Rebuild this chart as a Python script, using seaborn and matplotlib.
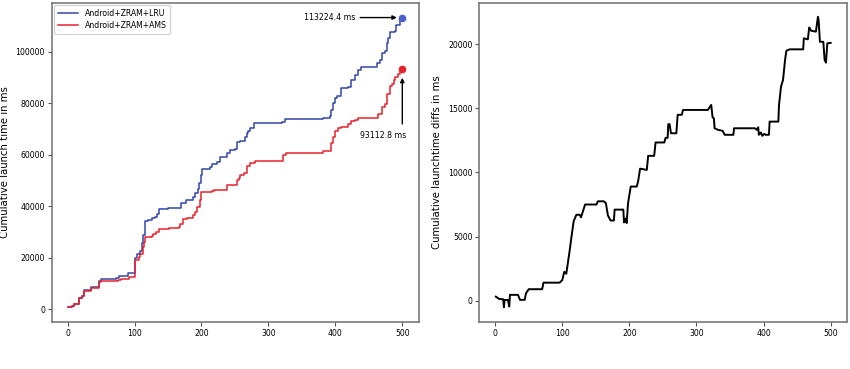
import matplotlib
matplotlib.use("Agg")
import matplotlib.pyplot as plt
import seaborn as sns
import pandas as pd

# ---- data ----
lru_x = [1, 6, 10, 17, 21, 24, 35, 47, 50, 72, 77, 90, 100, 101, 103, 108, 111, 113, 115, 120,
         126, 130, 133, 136, 150, 169, 177, 187, 191, 195, 197, 199, 201, 212, 215, 223, 228, 238,
         243, 250, 253, 258, 265, 268, 270, 273, 278, 320, 325, 382, 392, 394, 397, 400, 402, 409,
         419, 424, 429, 434, 439, 462, 467, 469, 474, 477, 479, 482, 489, 491, 496, 500]
lru_y = [650, 1300, 2100, 4200, 5000, 7400, 8600, 11000, 11800, 12100, 13000, 13800, 17000, 20000,
         21300, 22600, 25500, 28600, 34200, 34600, 35300, 35700, 37000, 38700, 39200, 41000, 42500,
         43500, 45000, 46500, 49000, 52000, 54500, 55200, 56500, 57100, 59100, 60600, 61700, 62300,
         64900, 65300, 66900, 68200, 69200, 70300, 72300, 72700, 73800, 74300, 75000, 77300, 80000,
         81800, 82700, 85700, 86200, 89000, 90900, 92900, 94200, 95500, 96800, 99400, 100300, 103200,
         105200, 107800, 108000, 110400, 113000, 113224.4]

ams_x = [1, 6, 10, 17, 21, 24, 35, 47, 50, 75, 80, 92, 100, 101, 106, 108, 112, 114, 116, 126,
         128, 132, 136, 151, 166, 168, 172, 178, 188, 190, 194, 198, 200, 216, 218, 238, 253, 256,
         258, 263, 268, 273, 280, 322, 327, 382, 394, 397, 400, 404, 409, 419, 424, 429, 434, 464,
         469, 474, 477, 481, 484, 487, 489, 494, 496, 500]
ams_y = [650, 1300, 2000, 4200, 5000, 7000, 8300, 10500, 10800, 11200, 11600, 12500, 16000, 19000,
         20300, 21500, 24100, 26000, 28000, 28500, 29000, 30000, 31000, 31500, 31900, 33200, 34800,
         35500, 36500, 37700, 39600, 42400, 45400, 45800, 46300, 48000, 50000, 51000, 51900, 52800,
         55400, 56700, 57500, 59700, 60600, 61200, 64600, 67000, 69100, 70400, 70800, 71700, 73000,
         73600, 74300, 75800, 78400, 79700, 83600, 86800, 87500, 88800, 90100, 91400, 92300, 93112.8]

diff_x = [1, 6, 12, 13, 14, 19, 21, 22, 34, 37, 44, 46, 50, 70, 72, 96, 100, 103, 106, 111, 113,
          117, 121, 126, 128, 131, 134, 151, 153, 162, 165, 168, 172, 177, 178, 191, 192, 194, 196,
          198, 202, 211, 213, 216, 226, 228, 237, 239, 252, 254, 257, 258, 260, 262, 270, 272, 278,
          280, 317, 321, 322, 324, 326, 327, 332, 339, 342, 355, 356, 387, 390, 392, 393, 396, 398,
          401, 403, 408, 409, 422, 423, 426, 429, 432, 434, 439, 459, 460, 466, 468, 471, 478, 481,
          482, 484, 489, 491, 493, 495, 500]
diff_y = [310, 130, 100, -520, 50, 50, -460, 450, 450, 60, 60, 580, 890, 890, 1400, 1400, 1600,
          2250, 2100, 3900, 4700, 6200, 6700, 6700, 6500, 7000, 7500, 7500, 7750, 7750, 7600, 6650,
          6250, 6250, 7100, 7100, 6100, 6400, 6050, 7600, 8900, 8900, 9300, 10300, 10200, 11300,
          11300, 12340, 12340, 12700, 12700, 13770, 13770, 13060, 13060, 14500, 14500, 14880, 14880,
          15200, 15270, 14300, 14230, 13450, 13330, 13250, 12940, 12940, 13450, 13450, 13330, 13530,
          12940, 13120, 12860, 13010, 12940, 12940, 13970, 13970, 15270, 16700, 17220, 18780, 19500,
          19610, 19610, 20470, 20390, 21320, 21060, 20990, 22150, 21900, 20200, 20200, 18780, 18570,
          20080, 20112]

series_names = ["Android+ZRAM+LRU", "Android+ZRAM+AMS"]
final_values = [113224.4, 93112.8]
final_labels = ["113224.4 ms", "93112.8 ms"]

# ---- styling ----
plt.rcParams["font.family"] = ["DejaVu Sans"]
blue = "#3347a8"
red = "#e8202a"
spine_col = "#7a7a7a"
tick_fs = 5.6

fig = plt.figure(figsize=(8.5, 3.69), dpi=100)
ax1 = fig.add_axes([0.061, 0.127, 0.432, 0.865])
ax2 = fig.add_axes([0.564, 0.127, 0.433, 0.865])

df_lru = pd.DataFrame({"x": lru_x, "y": lru_y})
df_ams = pd.DataFrame({"x": ams_x, "y": ams_y})
df_diff = pd.DataFrame({"x": diff_x, "y": diff_y})

sns.lineplot(data=df_lru, x="x", y="y", ax=ax1, color=blue, lw=1.1,
             drawstyle="steps-post", estimator=None, label=series_names[0])
sns.lineplot(data=df_ams, x="x", y="y", ax=ax1, color=red, lw=1.1,
             drawstyle="steps-post", estimator=None, label=series_names[1])
ax1.plot([lru_x[-1]], [final_values[0]], "o", color="#4a62c8", ms=4.5)
ax1.plot([ams_x[-1]], [final_values[1]], "o", color=red, ms=4.5)

# annotations
ax1.text(391, final_values[0], final_labels[0], ha="center", va="center", fontsize=tick_fs)
ax1.annotate("", xy=(496, final_values[0]), xytext=(433, final_values[0]),
             arrowprops=dict(arrowstyle="-|>", color="black", lw=1.0, mutation_scale=6))
ax1.text(472, 67500, final_labels[1], ha="center", va="center", fontsize=tick_fs)
ax1.annotate("", xy=(500, final_values[1] - 2200), xytext=(500, 70800),
             arrowprops=dict(arrowstyle="-|>", color="black", lw=1.0, mutation_scale=6))

leg = ax1.legend(loc="upper left", fontsize=tick_fs, frameon=True, borderaxespad=0.3,
                 handlelength=2.6, labelspacing=0.35, borderpad=0.5, fancybox=True)
leg.get_frame().set_edgecolor("#cccccc")

sns.lineplot(data=df_diff, x="x", y="y", ax=ax2, color="black", lw=1.4,
             estimator=None, sort=False)

ax1.set_xlim(-23.5, 525)
ax1.set_ylim(-5100, 118900)
ax1.set_xticks([0, 100, 200, 300, 400, 500])
ax1.set_yticks([0, 20000, 40000, 60000, 80000, 100000])
ax2.set_xlim(-23.5, 525)
ax2.set_ylim(-1680, 23230)
ax2.set_xticks([0, 100, 200, 300, 400, 500])
ax2.set_yticks([0, 5000, 10000, 15000, 20000])

ax1.set_xlabel("")
ax2.set_xlabel("")
ax1.set_ylabel("Cumulative launch time in ms", fontsize=7.3, labelpad=4)
ax2.set_ylabel("Cumulative launchtime diffs in ms", fontsize=7.3, labelpad=4)

for ax in (ax1, ax2):
    for s in ax.spines.values():
        s.set_color(spine_col)
        s.set_linewidth(1.2)
    ax.tick_params(labelsize=tick_fs, length=3, width=0.8, color="#555555", pad=2)

fig.savefig("out.png", dpi=100)
